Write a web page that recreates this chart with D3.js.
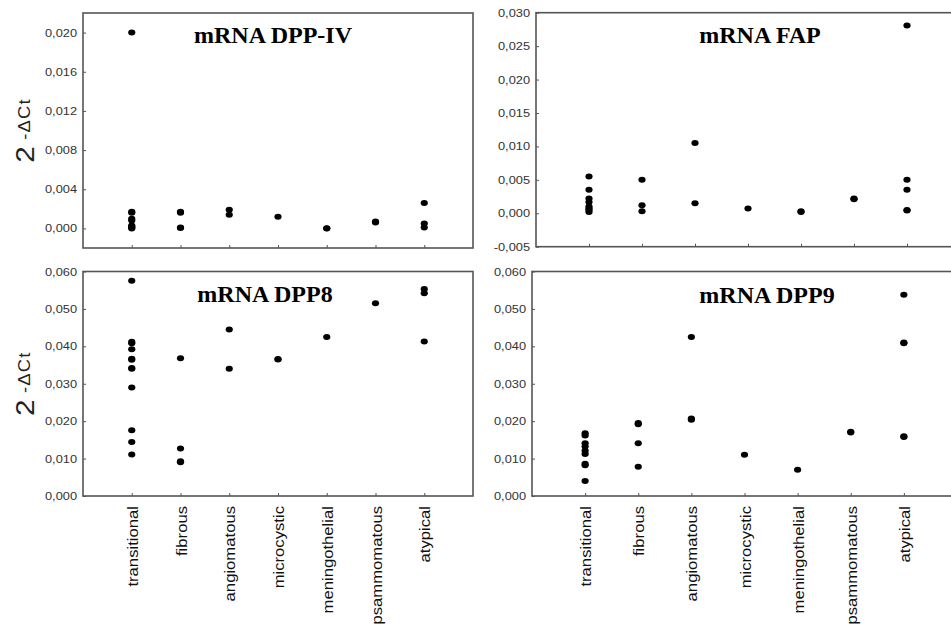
<!DOCTYPE html>
<html>
<head>
<meta charset="utf-8">
<script src="https://cdn.jsdelivr.net/npm/d3@7"></script>
<style>
  html, body { margin: 0; padding: 0; background: #fff; }
  svg { display: block; }
</style>
</head>
<body>
<svg id="chart" width="951" height="626"></svg>
<script>
// ---------- DATA ----------
const categories = ["transitional", "fibrous", "angiomatous", "microcystic", "meningothelial", "psammomatous", "atypical"];

// values per category (same order as categories)
const dppIV = [
  [0.0200, 0.0017, 0.0016, 0.0010, 0.0008, 0.0003, 0.0002, 0.0001, 0.0000],
  [0.0017, 0.0016, 0.0001, 0.00005],
  [0.0019, 0.0014],
  [0.0012],
  [0.0000, 0.00002],
  [0.0007, 0.0006],
  [0.0026, 0.0005, 0.0001]
];
const fap = [
  [0.0055, 0.0035, 0.0022, 0.0017, 0.0010, 0.0007, 0.0005, 0.0002],
  [0.0050, 0.0012, 0.0003],
  [0.0105, 0.0015],
  [0.0007],
  [0.0002, 0.0003],
  [0.0022, 0.0021],
  [0.0281, 0.0050, 0.0035, 0.0005, 0.0004]
];
const dpp8 = [
  [0.0575, 0.0412, 0.0408, 0.0392, 0.0367, 0.0364, 0.0342, 0.0340, 0.0290, 0.0176, 0.0144, 0.0111],
  [0.0368, 0.0127, 0.0093, 0.0090],
  [0.0445, 0.0340],
  [0.0366, 0.0365],
  [0.0425],
  [0.0515],
  [0.0553, 0.0542, 0.0413]
];
const dpp9 = [
  [0.0168, 0.0162, 0.0141, 0.0132, 0.0121, 0.0112, 0.0086, 0.0082, 0.0040],
  [0.0195, 0.0192, 0.0141, 0.0078],
  [0.0425, 0.0207, 0.0204],
  [0.0110],
  [0.0070],
  [0.0172, 0.0170],
  [0.0538, 0.0410, 0.0408, 0.0160, 0.0158]
];

const ticksDppIV = [0, 0.004, 0.008, 0.012, 0.016, 0.020];
const ticksFap = [-0.005, 0, 0.005, 0.010, 0.015, 0.020, 0.025, 0.030];
const ticksDpp8 = [0, 0.010, 0.020, 0.030, 0.040, 0.050, 0.060];
const ticksDpp9 = [0, 0.010, 0.020, 0.030, 0.040, 0.050, 0.060];

const titles = ["mRNA DPP-IV", "mRNA FAP", "mRNA DPP8", "mRNA DPP9"];
const yTitleMain = "2";
const yTitleSup = " -\u0394Ct";

// ---------- LAYOUT ----------
const panels = [
  { data: dppIV, ticks: ticksDppIV, domain: [-0.002, 0.022], title: titles[0],
    x0: 83, x1: 473, y0: 13, y1: 248, tx: 273, ty: 43, yTitle: true, xLabels: false },
  { data: fap, ticks: ticksFap, domain: [-0.005, 0.030], title: titles[1],
    x0: 536, x1: 960, y0: 12.7, y1: 246.7, tx: 760, ty: 43, yTitle: false, xLabels: false },
  { data: dpp8, ticks: ticksDpp8, domain: [0, 0.060], title: titles[2],
    x0: 83, x1: 473, y0: 271.5, y1: 496, tx: 265, ty: 302, yTitle: true, xLabels: true },
  { data: dpp9, ticks: ticksDpp9, domain: [0, 0.060], title: titles[3],
    x0: 532, x1: 957, y0: 271.5, y1: 496, tx: 767, ty: 303, yTitle: false, xLabels: true }
];

const locale = d3.formatLocale({ decimal: ",", thousands: ".", grouping: [3], currency: ["", ""], minus: "-" });
const fmt = locale.format(".3f");

const svg = d3.select("#chart");
const frameColor = "#555";

panels.forEach(p => {
  const x = d3.scalePoint().domain(categories).range([p.x0, p.x1]).padding(1);
  const y = d3.scaleLinear().domain(p.domain).range([p.y1, p.y0]);
  const g = svg.append("g");

  // frame
  g.append("rect")
    .attr("x", p.x0).attr("y", p.y0)
    .attr("width", p.x1 - p.x0).attr("height", p.y1 - p.y0)
    .attr("fill", "none").attr("stroke", frameColor).attr("stroke-width", 1.6);

  // y axis
  const ya = g.append("g").attr("transform", `translate(${p.x0},0)`)
    .call(d3.axisLeft(y).tickValues(p.ticks).tickFormat(fmt).tickSizeInner(-3).tickSizeOuter(0).tickPadding(7));
  ya.select(".domain").remove();
  ya.selectAll(".tick line").attr("stroke", frameColor);
  ya.selectAll(".tick text")
    .attr("x", null).attr("dy", "0.35em")
    .attr("transform", "translate(-6,0) scale(1.28,1)")
    .attr("fill", "#333")
    .style("font-family", "'Liberation Sans', Arial, sans-serif")
    .style("font-size", "10px");

  // x axis
  const xa = g.append("g").attr("transform", `translate(0,${p.y1})`)
    .call(d3.axisBottom(x).tickSizeInner(-3).tickSizeOuter(0).tickPadding(0));
  xa.select(".domain").remove();
  xa.selectAll(".tick line").attr("stroke", frameColor);
  if (p.xLabels) {
    xa.selectAll(".tick text")
      .attr("y", null).attr("dy", null)
      .attr("text-anchor", "end")
      .attr("transform", "translate(5.5,10) rotate(-90) scale(1.15,1)")
      .attr("fill", "#111")
      .style("font-family", "'Liberation Sans', Arial, sans-serif")
      .style("font-size", "14.5px");
  } else {
    xa.selectAll(".tick text").remove();
  }

  // points
  const pts = [];
  p.data.forEach((vals, i) => vals.forEach(v => pts.push({ c: categories[i], v })));
  g.selectAll("ellipse.pt").data(pts).enter().append("ellipse")
    .attr("class", "pt")
    .attr("cx", d => x(d.c))
    .attr("cy", d => y(d.v))
    .attr("rx", 3.6).attr("ry", 3.0)
    .attr("fill", "#000");

  // panel title
  g.append("text")
    .attr("x", p.tx).attr("y", p.ty)
    .attr("text-anchor", "middle")
    .style("font-family", "'Liberation Serif', 'Times New Roman', serif")
    .style("font-weight", "bold")
    .style("font-size", "24px")
    .attr("fill", "#000")
    .text(p.title);

  // y title
  if (p.yTitle) {
    const cy = (p.y0 + p.y1) / 2;
    const t = g.append("text")
      .attr("transform", `translate(34,${cy}) rotate(-90) scale(1.15,1)`)
      .attr("text-anchor", "middle")
      .attr("fill", "#222")
      .style("font-family", "'Liberation Sans', Arial, sans-serif");
    t.append("tspan").style("font-size", "26px").text(yTitleMain);
    t.append("tspan").attr("dy", -4).style("font-size", "16px").style("letter-spacing", "1px").text(yTitleSup);
  }
});
</script>
</body>
</html>
